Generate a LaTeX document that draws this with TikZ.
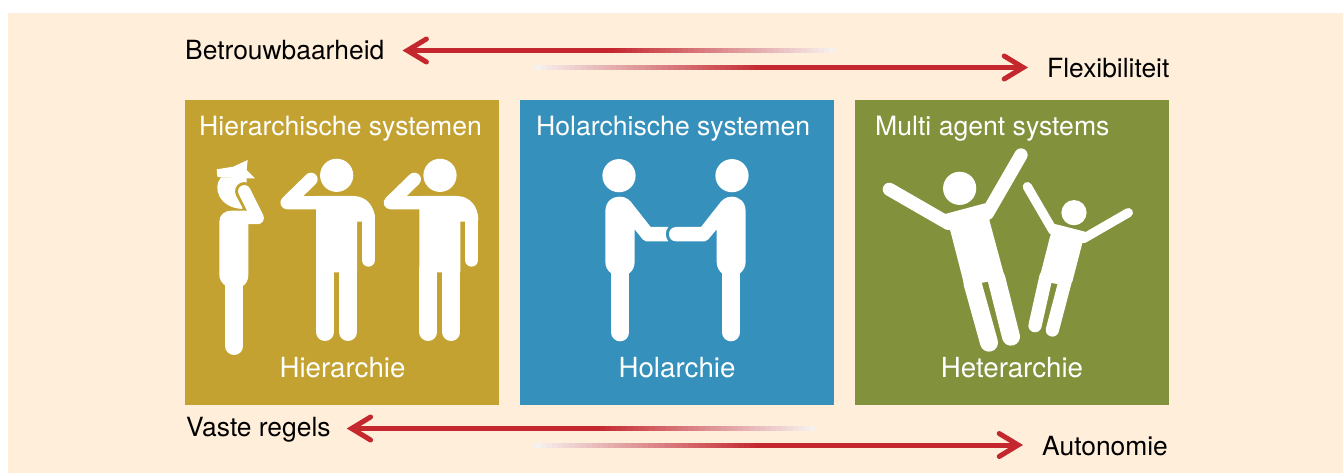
\documentclass[tikz,border=0pt]{standalone}
\usepackage{fontspec}
\setmainfont{TeX Gyre Heros}
\usetikzlibrary{arrows.meta}
\definecolor{cream}{HTML}{FFEEDA}
\definecolor{goldpanel}{HTML}{C3A232}
\definecolor{bluepanel}{HTML}{3590BB}
\definecolor{greenpanel}{HTML}{82913B}
\definecolor{arrowred}{HTML}{C4282E}
\definecolor{fadeend}{HTML}{F6F0EE}
\tikzset{
    panel/.style={minimum width=314pt,minimum height=305pt,inner sep=0pt},
    paneltitle/.style={text=white,font=\fontsize{26.6}{30}\selectfont,inner sep=0pt},
    panelname/.style={text=white,font=\fontsize{27.7}{32}\selectfont,inner sep=0pt},
    sidelabel/.style={text=black,font=\fontsize{26.4}{30}\selectfont,inner sep=0pt},
    redarrow/.style={draw=arrowred,line width=5pt,-{Straight Barb[length=19pt,width=23pt,line cap=round,line join=miter]}},
    bigleg/.style={draw=white,line cap=round,line width=18pt},
    bigarm/.style={draw=white,line cap=round,line join=round,line width=13.3pt},
    smallleg/.style={draw=white,line cap=round,line width=13.3pt},
    smallarm/.style={draw=white,line cap=round,line width=9.3pt}
}
\begin{document}
\begin{tikzpicture}[x=1pt,y=-1pt]
        \useasboundingbox (0,0) rectangle (1343,473);
        \fill[cream] (8,13) rectangle (1343,473);
        \node[panel,fill=goldpanel] (hierpanel) at (342,252.5) {};
        \node[panel,fill=bluepanel] (holpanel) at (677,252.5) {};
        \node[panel,fill=greenpanel] (hetpanel) at (1012,252.5) {};
        \node[paneltitle,anchor=base west] (hiertitle) at (199,136) {Hierarchische systemen};
        \node[paneltitle,anchor=base west] (holtitle) at (536,136) {Holarchische systemen};
        \node[paneltitle,anchor=base west] (hettitle) at (875,136) {Multi agent systems};
        \node[panelname,anchor=base] (hiername) at (342.5,377.5) {Hierarchie};
        \node[panelname,anchor=base] (holname) at (677,377.5) {Holarchie};
        \node[panelname,anchor=base] (hetname) at (1012,377.5) {Heterarchie};
        \node[sidelabel,anchor=base west] (betrouwbaar) at (185,60) {Betrouwbaarheid};
        \node[sidelabel,anchor=base west] (flexibel) at (1047,78) {Flexibiliteit};
        \node[sidelabel,anchor=base west] (vaste) at (186,436) {Vaste regels};
        \node[sidelabel,anchor=base west] (autonoom) at (1042,455) {Autonomie};
        \coordinate (topleft) at (610,50.5);
        \coordinate (topright) at (765,67.5);
        \coordinate (lowleft) at (595,428.5);
        \coordinate (lowright) at (760,445);
        \foreach \xa/\xb/\yy in {609/835/50.5,766/535/67.5,594/815/428.5,761/535/445} {
                \foreach \k in {0,...,39} {
                        \pgfmathsetmacro\mix{100-100*\k/39}
                        \draw[arrowred!\mix!fadeend,line width=5pt] ({\xa+(\xb-\xa)*\k/40},\yy) -- ({\xa+(\xb-\xa)*(\k+1.15)/40},\yy);
                }
        }
        \draw[redarrow,shorten >=18pt] (topleft) -- (betrouwbaar.east |- topleft);
        \draw[redarrow,shorten >=19pt] (topright) -- (flexibel.west |- topright);
        \draw[redarrow,shorten >=16pt] (lowleft) -- (vaste.east |- lowleft);
        \draw[redarrow,shorten >=19pt] (lowright) -- (autonoom.west |- lowright);
        \begin{scope}[shift={(185,100)},x=0.33333pt,y=-0.33333pt]
                \fill[white] (95,208) -- (145,200) -- (188,180) -- (185,210) -- (210,235) -- (185,235) -- (108,232) -- (97,230) -- cycle;
                \fill[white] (108,232) .. controls (80,265) and (105,324) .. (172,327) -- (185,250) -- (185,232) -- cycle;
                \draw[goldpanel,line width=18.5pt,line cap=round] (178,274) -- (205,325);
                \fill[white] (103,365) .. controls (103,345) and (118,332) .. (140,332) -- (190,332) -- (190,525) .. controls (190,538) and (185,550) .. (175,557) -- (121,557) .. controls (111,550) and (103,538) .. (103,525) -- cycle;
                \draw[bigleg] (148,550) -- (148,738);
                \draw[bigarm,line width=12.5pt] (178,274) -- (218,354) -- (185,354);
                \foreach \dx in {0,310} {
                        \fill[white] (455+\dx,226) circle (16.6pt);
                        \draw[bigarm] (378+\dx,238) -- (306+\dx,308) -- (400+\dx,308);
                        \fill[white] (393+\dx,288) -- (505+\dx,288) .. controls (545+\dx,288) and (570+\dx,320) .. (570+\dx,360) -- (530+\dx,365) -- (516+\dx,365) -- (516+\dx,517) -- (393+\dx,517) -- cycle;
                        \draw[bigarm] (550+\dx,350) -- (550+\dx,480);
                        \draw[bigleg] (420+\dx,510) -- (420+\dx,696);
                        \draw[bigleg] (489+\dx,510) -- (489+\dx,696);
                }
        \end{scope}
        \begin{scope}[shift={(520,100)},x=0.33333pt,y=-0.33333pt]
                \fill[white] (297,227) circle (16.6pt);
                \fill[white] (636,227) circle (16.6pt);
                \fill[white] (256,335) .. controls (256,305) and (275,290) .. (300,290) .. controls (318,290) and (330,300) .. (340,315) -- (392,381) -- (445,381) .. controls (435,392) and (435,412) .. (445,424) -- (378,424) -- (368,418) -- (344,388) -- (344,485) .. controls (344,500) and (338,512) .. (328,520) -- (274,520) .. controls (262,512) and (256,500) .. (256,485) -- cycle;
                \fill[white] (677,335) .. controls (677,305) and (658,290) .. (635,290) .. controls (617,290) and (605,300) .. (595,315) -- (543,381) -- (468,381) .. controls (440,381) and (440,424) .. (468,424) -- (555,424) -- (565,418) -- (590,388) -- (590,485) .. controls (590,500) and (596,512) .. (606,520) -- (660,520) .. controls (670,512) and (677,500) .. (677,485) -- cycle;
                \draw[bigleg] (301,510) -- (301,697);
                \draw[bigleg] (633,510) -- (633,697);
        \end{scope}
        \begin{scope}[shift={(855,100)},x=0.33333pt,y=-0.33333pt]
                \fill[white] (314,265) circle (16.6pt);
                \draw[bigarm] (103,268) -- (280,370);
                \draw[bigarm] (498,165) -- (397,340);
                \fill[white] (288,400) -- (270,342) -- (390,310) -- (405,368) -- (450,535) -- (398,545) -- (383,548) -- (326,548) -- cycle;
                \draw[bigleg] (352,548) -- (402,728);
                \draw[bigleg] (424,535) -- (468,710);
                \fill[white] (657,338) circle (12.6pt);
                \draw[smallarm] (517,260) -- (594,392);
                \draw[smallarm] (820,338) -- (685,416);
                \fill[white] (585,410) -- (600,372) -- (690,395) -- (680,437) -- (652,545) -- (607,552) -- (595,550) -- (552,540) -- cycle;
                \draw[smallleg] (573,530) -- (540,677);
                \draw[smallleg] (634,530) -- (592,690);
        \end{scope}
\end{tikzpicture}
\end{document}
